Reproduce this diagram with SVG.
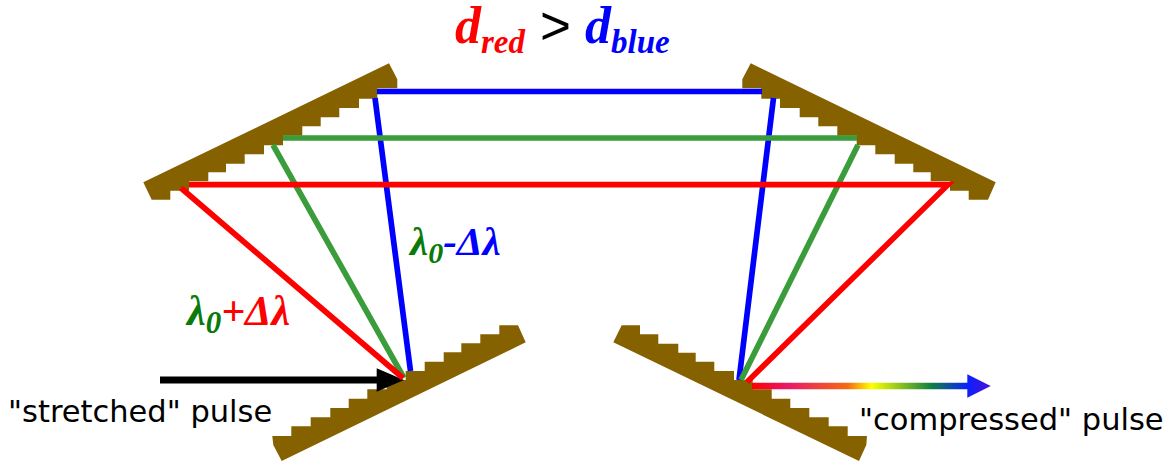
<svg xmlns="http://www.w3.org/2000/svg" width="1176" height="461" viewBox="0 0 1176 461">
<style>
.g{fill:#866100}
.b{fill:none;stroke-width:5.700;stroke:#0000ff}
.n{fill:none;stroke-width:5.700;stroke:#3b9c3b}
.r{fill:none;stroke-width:5.700;stroke:#ff0000}
.t{font-family:"DejaVu Sans",Verdana,sans-serif;font-size:30.500px;fill:#000}
.s{font-family:"Liberation Serif","Times New Roman",serif;font-weight:bold;font-style:italic}
</style>
<defs>
<linearGradient id="sp" gradientUnits="userSpaceOnUse" x1="752" y1="0" x2="991" y2="0">
<stop offset="0" stop-color="#ff0000"/>
<stop offset="0.15" stop-color="#e8186a"/>
<stop offset="0.4" stop-color="#f46a10"/>
<stop offset="0.5" stop-color="#ffff00"/>
<stop offset="0.75" stop-color="#108040"/>
<stop offset="0.9" stop-color="#0a20ff"/>
<stop offset="1" stop-color="#4a10d8"/>
</linearGradient>
</defs>
<g id="grating-top-left"><polygon class="g" points="389,63.300 397.300,79.300 397.300,88.300 377.300,88.300 377.300,98.700 359,98.700 359,108 339.300,108 339.300,117.300 320.700,117.300 320.700,126.300 302.300,126.300 302.300,135.700 283,135.700 283,145.300 264,145.300 264,154.300 244.700,154.300 244.700,163.700 226,163.700 226,172.300 208.300,172.300 208.300,181.300 189,181.300 189,190.700 170.300,190.700 170.300,199.700 151.700,199.700 143.300,182.300"/></g>
<g id="grating-top-right"><polygon class="g" points="750.700,63.300 742.300,79.300 742.300,88.300 761.300,88.300 761.300,98.700 780,98.700 780,108 799.700,108 799.700,117.300 818.300,117.300 818.300,126.300 837.300,126.300 837.300,135.700 856.700,135.700 856.700,145.300 875.300,145.300 875.300,154.300 894.700,154.300 894.700,163.700 913.300,163.700 913.300,172.300 930.700,172.300 930.700,181.300 950,181.300 950,190.700 968.700,190.700 968.700,199.700 988,199.700 995.700,182.300"/></g>
<g id="grating-bottom-left"><polygon class="g" points="281.700,461 273.300,445 272.300,436 291.300,436 291.300,426.300 310.700,426.300 310.700,417.300 330.300,417.300 330.300,408 348.700,408 348.700,398.700 367.300,398.700 367.300,389.300 386.700,389.300 386.700,380 405.700,380 405.700,371 424.700,371 424.700,361.700 443.700,361.700 443.700,352.300 461.300,352.300 461.300,343.300 480.300,343.300 480.300,334.300 499.300,334.300 499.300,325.300 518,325.300 525.700,342.300"/></g>
<g id="grating-bottom-right"><polygon class="g" points="621.700,325.300 640,325.300 640,334.300 658.300,334.300 658.300,343.700 678.300,343.700 678.300,352.700 695.700,352.700 695.700,361.700 714.300,361.700 714.300,371 734,371 734,380 752.700,380 752.700,389.300 771.700,389.300 771.700,398.700 790.300,398.700 790.300,408 809.300,408 809.300,417.300 828.700,417.300 828.700,426.300 847.700,426.300 847.700,436 867,436 866.300,445 859,461 613.300,342.300"/></g>
<g id="connectors">
<path class="b" d="M375 98L410.500 371M377 91.500H762M773.500 98L739 380"/>
<path class="n" d="M273 145L404 378M283 138H857M858 145L741 380"/>
<path d="M160 380H378" stroke="#000" stroke-width="7" fill="none"/>
<polygon points="376.700,368.300 404,380 376.700,391.700" fill="#000"/>
<path class="r" d="M181 188L403 378M189 184.700H948L747 382"/>
<path d="M752 386H968" stroke="url(#sp)" stroke-width="6.700" fill="none"/>
<polygon points="967.300,374.300 990.700,386 967.300,397.700" fill="url(#sp)"/>
</g>
<g id="labels">
<text class="s" x="455" y="43" font-size="52" fill="#ff0000">d<tspan font-size="33" dy="10">red</tspan></text>
<text x="540" y="44" font-family="'Liberation Sans',Arial,sans-serif" font-size="53" fill="#000">&gt;</text>
<text class="s" x="585" y="43" font-size="52" fill="#0000ff">d<tspan font-size="33" dy="10">blue</tspan></text>
<text class="s" x="410" y="255" font-size="41"><tspan fill="#0a7a0a">λ</tspan><tspan fill="#0a7a0a" font-size="30" dy="8">0</tspan><tspan fill="#0000ff" dy="-8">-Δλ</tspan></text>
<text class="s" x="187" y="325" font-size="42"><tspan fill="#0a7a0a">λ</tspan><tspan fill="#0a7a0a" font-size="31" dy="8">0</tspan><tspan fill="#ff0000" dy="-8">+Δλ</tspan></text>
<text class="t" x="8" y="422">"stretched" pulse</text>
<text class="t" x="859" y="430">"compressed" pulse</text>
</g>
</svg>
